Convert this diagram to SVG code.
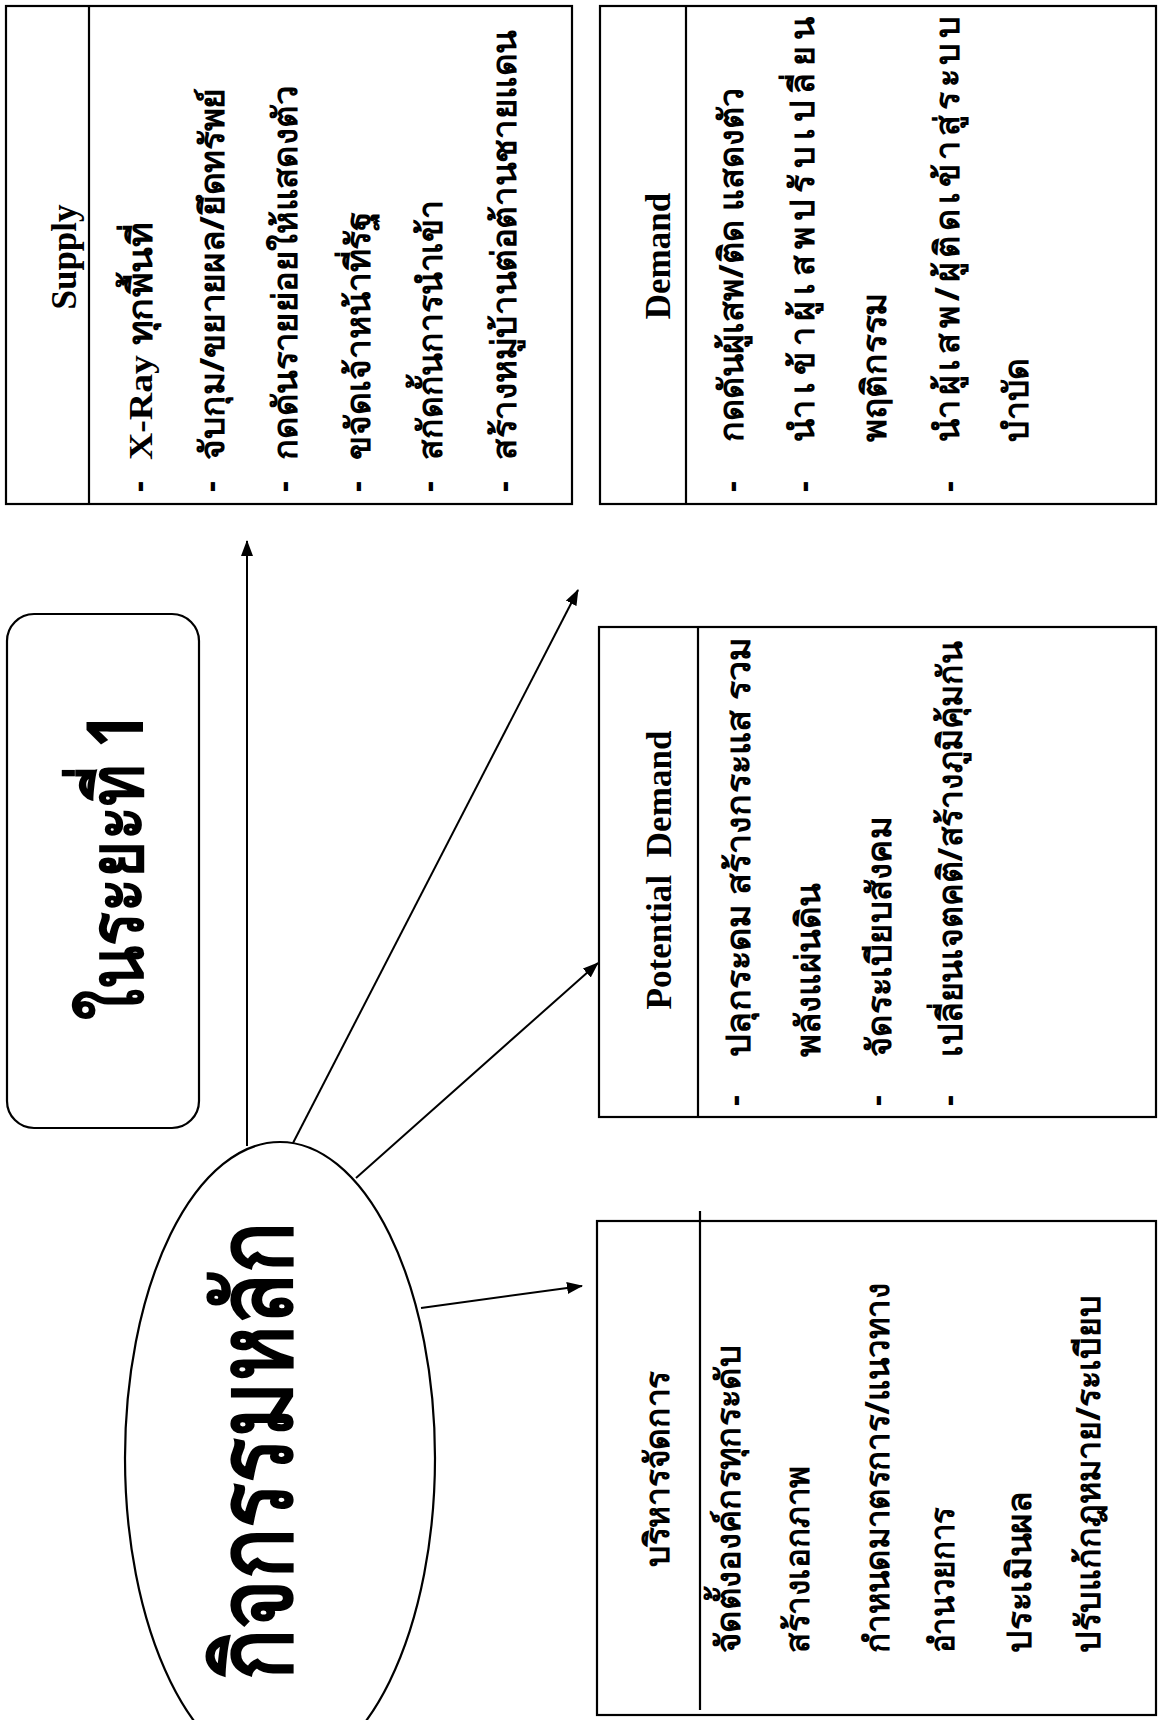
<svg xmlns="http://www.w3.org/2000/svg" width="1161" height="1720" viewBox="0 0 1161 1720">
<style>
.bx{fill:none;stroke:#000;stroke-width:2.2}
.dv{stroke:#000;stroke-width:2.2;fill:none}
.cn{stroke:#000;stroke-width:2;fill:none}
.th{font-family:"Noto Sans","DejaVu Sans",sans-serif;font-weight:700;font-size:34px;fill:#000}
.en{font-family:"Liberation Serif","Times New Roman",serif;font-weight:700;font-size:35px;fill:#000;white-space:pre}
.ser{font-family:"Liberation Serif","Times New Roman",serif;font-weight:700}
.big{font-family:"Noto Sans","DejaVu Sans",sans-serif;font-weight:700;fill:#000}
</style>
<defs>
<marker id="ah" markerUnits="userSpaceOnUse" markerWidth="16" markerHeight="12" refX="15" refY="6" orient="auto">
<path d="M0,0 L16,6 L0,12 Z" fill="#000"/>
</marker>
</defs>
<rect width="1161" height="1720" fill="#fff"/>

<g id="connectors">
<line class="cn" x1="247" y1="1146" x2="247" y2="541" marker-end="url(#ah)"/>
<line class="cn" x1="293" y1="1143" x2="578" y2="590" marker-end="url(#ah)"/>
<line class="cn" x1="356" y1="1178" x2="598" y2="963" marker-end="url(#ah)"/>
<line class="cn" x1="421" y1="1308" x2="582" y2="1286" marker-end="url(#ah)"/>
</g>

<g id="title">
<rect class="bx" x="7" y="614" width="192" height="514" rx="27"/>
<text class="big" font-size="78" transform="translate(143,1020) rotate(-90)" textLength="308" lengthAdjust="spacingAndGlyphs">ในระยะที่ 1</text>
</g>

<g id="main">
<ellipse class="bx" cx="280" cy="1458" rx="155" ry="316"/>
<text class="big" font-size="104" transform="translate(291,1680) rotate(-90)" textLength="458" lengthAdjust="spacingAndGlyphs">กิจกรรมหลัก</text>
</g>

<g id="supply">
<rect class="bx" x="6" y="6" width="566" height="498"/>
<line class="dv" x1="89" y1="6" x2="89" y2="504"/>
<text class="en" font-size="33" text-anchor="middle" transform="translate(76,257) rotate(-90)">Supply</text>
<g class="th">
<text transform="translate(150,492) rotate(-90)">-</text>
<text transform="translate(222,492) rotate(-90)">-</text>
<text transform="translate(295,492) rotate(-90)">-</text>
<text transform="translate(368,492) rotate(-90)">-</text>
<text transform="translate(440,492) rotate(-90)">-</text>
<text transform="translate(515,492) rotate(-90)">-</text>
<text transform="translate(152,460) rotate(-90)" textLength="237" lengthAdjust="spacingAndGlyphs"><tspan class="ser">X-Ray</tspan> ทุกพื้นที่</text>
<text transform="translate(224,460) rotate(-90)" textLength="372" lengthAdjust="spacingAndGlyphs">จับกุม/ขยายผล/ยึดทรัพย์</text>
<text transform="translate(297,460) rotate(-90)" textLength="374" lengthAdjust="spacingAndGlyphs">กดดันรายย่อยให้แสดงตัว</text>
<text transform="translate(370,460) rotate(-90)" textLength="249" lengthAdjust="spacingAndGlyphs">ขจัดเจ้าหน้าที่รัฐ</text>
<text transform="translate(442,460) rotate(-90)" textLength="260" lengthAdjust="spacingAndGlyphs">สกัดกั้นการนำเข้า</text>
<text transform="translate(516,460) rotate(-90)" textLength="430" lengthAdjust="spacingAndGlyphs">สร้างหมู่บ้านต่อต้านชายแดน</text>
</g>
</g>

<g id="demand">
<rect class="bx" x="600" y="6" width="556" height="498"/>
<line class="dv" x1="686" y1="6" x2="686" y2="504"/>
<text class="en" text-anchor="middle" transform="translate(670,256) rotate(-90)">Demand</text>
<g class="th">
<text transform="translate(743,492) rotate(-90)">-</text>
<text transform="translate(815,492) rotate(-90)">-</text>
<text transform="translate(960,492) rotate(-90)">-</text>
<text transform="translate(743,442) rotate(-90)" textLength="354" lengthAdjust="spacingAndGlyphs">กดดันผู้เสพ/ติด แสดงตัว</text>
<text transform="translate(814,442) rotate(-90)" textLength="425" lengthAdjust="spacing">นำเข้าผู้เสพปรับเปลี่ยน</text>
<text transform="translate(886,442) rotate(-90)" textLength="149" lengthAdjust="spacingAndGlyphs">พฤติกรรม</text>
<text transform="translate(959,442) rotate(-90)" textLength="426" lengthAdjust="spacing">นำผู้เสพ/ผู้ติดเข้าสู่ระบบ</text>
<text transform="translate(1028,442) rotate(-90)" textLength="84" lengthAdjust="spacingAndGlyphs">บำบัด</text>
</g>
</g>

<g id="potential">
<rect class="bx" x="599" y="627" width="557" height="490"/>
<line class="dv" x1="698" y1="627" x2="698" y2="1117"/>
<text class="en" text-anchor="middle" transform="translate(671,870) rotate(-90)" textLength="279">Potential  Demand</text>
<g class="th">
<text transform="translate(746,1106) rotate(-90)">-</text>
<text transform="translate(888,1106) rotate(-90)">-</text>
<text transform="translate(960,1106) rotate(-90)">-</text>
<text transform="translate(750,1057) rotate(-90)" textLength="419" lengthAdjust="spacingAndGlyphs">ปลุกระดม สร้างกระแส รวม</text>
<text transform="translate(820,1057) rotate(-90)" textLength="174" lengthAdjust="spacingAndGlyphs">พลังแผ่นดิน</text>
<text transform="translate(891,1057) rotate(-90)" textLength="240" lengthAdjust="spacingAndGlyphs">จัดระเบียบสังคม</text>
<text transform="translate(962,1057) rotate(-90)" textLength="416" lengthAdjust="spacingAndGlyphs">เปลี่ยนเจตคติ/สร้างภูมิคุ้มกัน</text>
</g>
</g>

<g id="management">
<rect class="bx" x="597" y="1221" width="559" height="494"/>
<line class="dv" x1="700" y1="1211" x2="700" y2="1710"/>
<g class="th">
<text text-anchor="middle" transform="translate(669,1469) rotate(-90)" textLength="196" lengthAdjust="spacingAndGlyphs">บริหารจัดการ</text>
<text transform="translate(740,1653) rotate(-90)" textLength="308" lengthAdjust="spacingAndGlyphs">จัดตั้งองค์กรทุกระดับ</text>
<text transform="translate(809,1653) rotate(-90)" textLength="187" lengthAdjust="spacingAndGlyphs">สร้างเอกภาพ</text>
<text transform="translate(889,1653) rotate(-90)" textLength="370" lengthAdjust="spacingAndGlyphs">กำหนดมาตรการ/แนวทาง</text>
<text transform="translate(954,1653) rotate(-90)" textLength="146" lengthAdjust="spacingAndGlyphs">อำนวยการ</text>
<text transform="translate(1031,1653) rotate(-90)" textLength="162" lengthAdjust="spacingAndGlyphs">ประเมินผล</text>
<text transform="translate(1100,1653) rotate(-90)" textLength="358" lengthAdjust="spacingAndGlyphs">ปรับแก้กฎหมาย/ระเบียบ</text>
</g>
</g>
</svg>
